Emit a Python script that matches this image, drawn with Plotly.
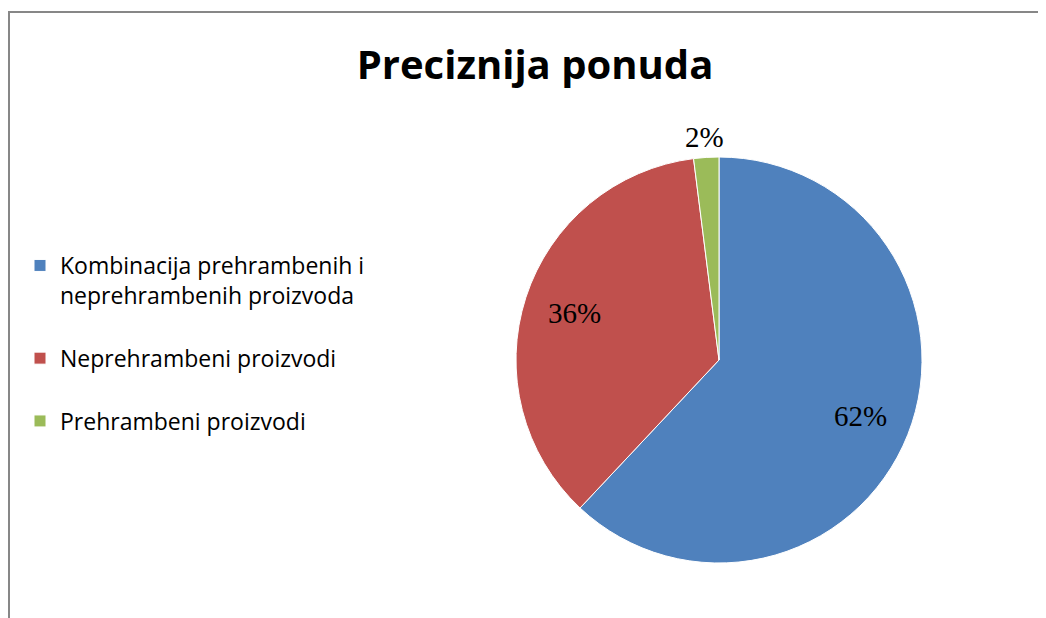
import numpy as np
import plotly.graph_objects as go

# chart data
labels = ["Kombinacija prehrambenih i<br>neprehrambenih proizvoda<br> ",
          "Neprehrambeni proizvodi<br> ",
          "Prehrambeni proizvodi"]
values = [62, 36, 2]
colors = ["#4F81BD", "#C0504D", "#9BBB59"]
title = "Preciznija ponuda"

W, H = 1046, 618
# pie geometry in figure pixels (page has an 8px body margin)
cx, cy, R = 711, 352, 203
label_r = [0.75, 0.75, 1.1]   # where Excel put the percent labels

fig = go.Figure(go.Pie(
    labels=labels, values=values, sort=False, direction="clockwise", rotation=0,
    marker=dict(colors=colors, line=dict(color="white", width=1)),
    textinfo="none", hoverinfo="label+percent",
    domain=dict(x=[(cx - R) / W, (cx + R) / W], y=[1 - (cy + R) / H, 1 - (cy - R) / H]),
))

# percent labels placed along each slice's mid angle
v = np.array(values, dtype=float)
frac = v / v.sum()
mid = (np.cumsum(frac) - frac / 2) * 2 * np.pi
annotations = []
for f, a, k in zip(frac, mid, label_r):
    px = cx + k * R * np.sin(a)
    py = cy - k * R * np.cos(a)
    annotations.append(dict(text=f"{round(f * 100)}%", xref="paper", yref="paper",
                            x=px / W, y=1 - py / H, xanchor="center", yanchor="middle",
                            showarrow=False,
                            font=dict(family="Liberation Serif", size=29, color="black")))

fig.update_layout(
    width=W, height=H,
    margin=dict(l=0, r=0, t=0, b=0),
    paper_bgcolor="white",
    title=dict(text="<b>" + title + "</b>", x=527 / W, xanchor="center",
               y=1 - 57 / H, yanchor="middle",
               font=dict(family="Open Sans", size=40, color="black")),
    legend=dict(x=12 / W, xanchor="left", y=1 - 236 / H, yanchor="top",
                valign="top", traceorder="normal",
                font=dict(family="Open Sans", size=23, color="black")),
    annotations=annotations,
    shapes=[
        dict(type="line", xref="paper", yref="paper", x0=1 / W, x1=1 / W, y0=0, y1=1 - 3 / H,
             line=dict(color="#878787", width=2)),
        dict(type="line", xref="paper", yref="paper", x0=0, x1=1, y0=1 - 4 / H, y1=1 - 4 / H,
             line=dict(color="#878787", width=2)),
    ],
)

fig.write_html("out.html")
